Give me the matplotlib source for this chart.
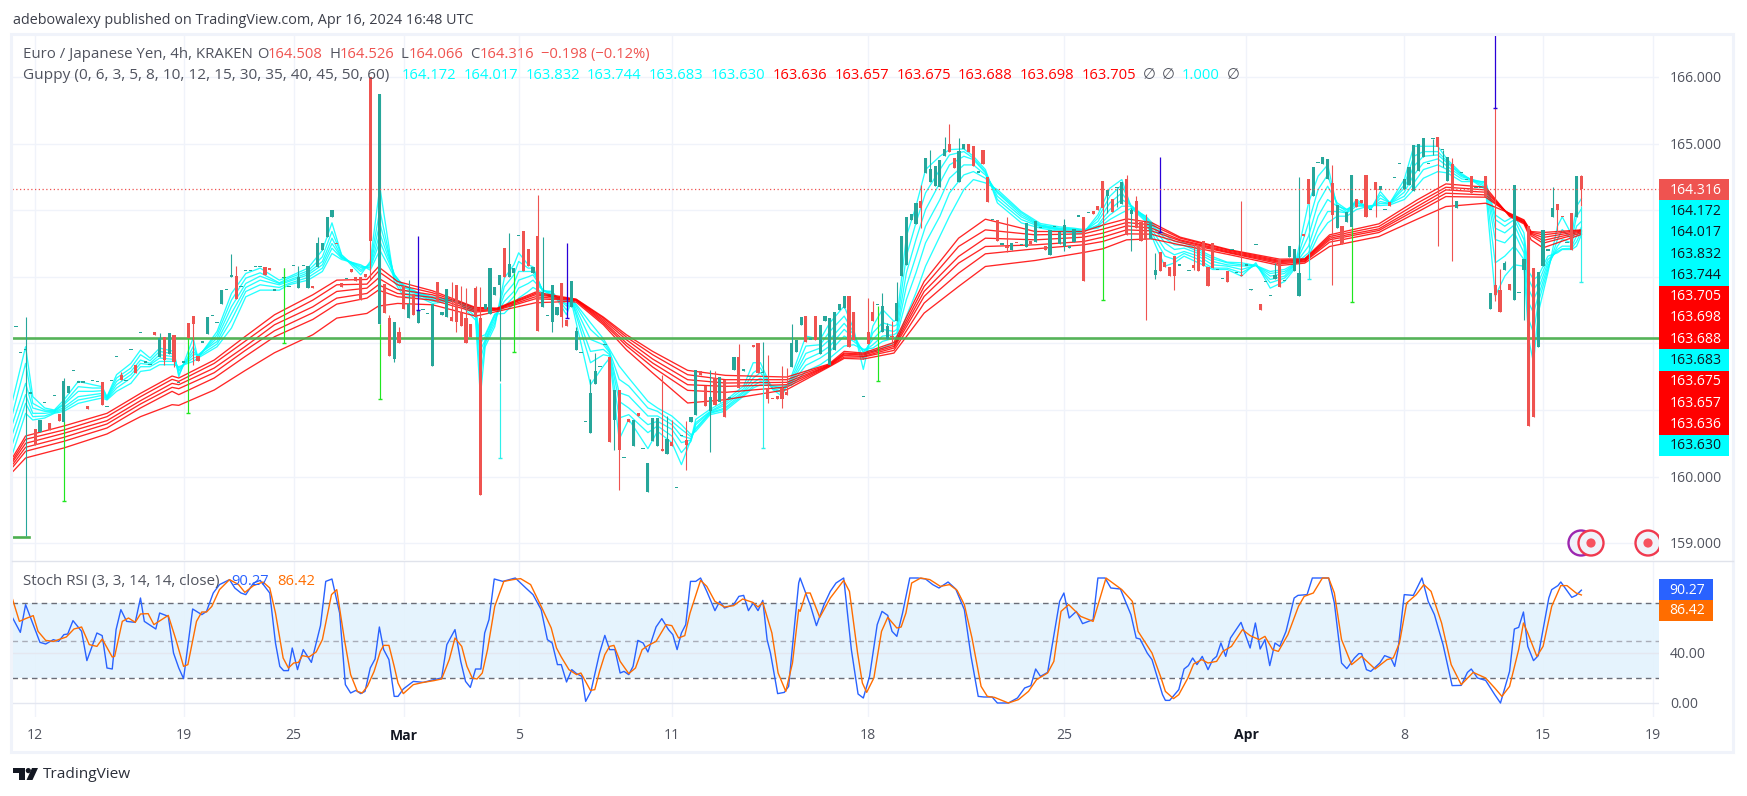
import numpy as np
import matplotlib
matplotlib.use("Agg")
import matplotlib.pyplot as plt
from matplotlib.patches import Rectangle, Circle, Polygon

nan = float("nan")
FONT = "Open Sans"
plt.rcParams["font.family"] = [FONT, "DejaVu Sans"]

# ------------------------- DATA -------------------------
first_bar = -2
bar_open = [
 162.243,161.853,161.90,161.243,160.718,160.663,161.103,160.803,161.208,160.943,  # -2..7
 160.813,161.253,161.583,161.408,161.408,161.063,161.428,161.418,161.418,161.043,  # 8..17
 161.428,161.793,161.528,161.428,161.898,161.673,162.153,161.713,161.678,162.168,  # 18..27
 161.803,162.093,161.843,162.123,161.403,161.713,162.303,162.408,161.813,162.013,  # 28..37
 162.143,162.408,162.303,162.593,162.803,163.003,163.013,162.843,163.083,163.083,  # 38..47
 163.143,163.143,163.143,163.128,162.793,nan,162.978,162.843,163.158,162.838,      # 48..57
 163.158,162.838,162.848,163.153,163.403,163.603,163.893,163.498,162.913,162.968,  # 58..67
 163.113,162.993,162.993,163.043,166.0,nan,162.293,162.888,162.378,161.763,        # 68..77
 162.173,162.863,162.388,162.738,162.313,162.503,162.438,161.668,162.918,162.433,  # 78..87
 162.393,162.403,162.878,162.463,162.378,162.293,162.828,162.378,162.513,162.438,  # 88..97
 162.728,162.878,163.428,163.003,163.053,163.613,163.683,163.413,163.053,163.613,  # 98..107
 162.553,162.413,162.328,162.433,162.913,162.353,162.54,161.895,161.855,160.82,    # 108..117
 160.655,161.395,161.645,161.97,161.795,160.845,161.305,160.28,160.865,160.455,    # 118..127
 160.955,160.415,159.765,160.53,160.455,160.415,160.335,160.52,159.83,160.605,     # 128..137
 160.545,160.815,160.92,161.58,161.365,160.98,161.485,161.115,161.445,161.17,      # 138..147
 161.605,161.8,161.58,161.495,161.98,162.005,161.555,161.33,161.17,161.215,        # 148..157
 161.33,161.265,161.64,161.87,162.28,162.405,162.055,162.415,161.845,162.33,       # 158..167
 161.68,161.905,162.495,162.53,162.715,162.47,nan,161.195,162.17,162.47,           # 168..177
 162.575,162.165,162.065,162.11,162.33,163.005,163.17,163.855,163.795,164.135,     # 178..187
 164.565,164.43,164.365,164.345,164.815,164.995,164.78,164.42,164.92,164.995,      # 188..197
 164.965,164.565,164.905,164.495,163.855,163.855,163.48,163.465,163.405,163.51,    # 198..207
 163.475,163.445,163.54,163.53,163.73,163.455,163.32,163.745,163.495,163.455,      # 208..217
 163.43,163.53,163.905,163.895,163.955,163.99,164.065,164.44,164.215,164.165,      # 218..227
 164.335,164.095,164.47,163.945,164.14,163.83,163.83,163.575,163.03,163.37,        # 228..237
 163.22,163.14,163.315,163.165,nan,163.085,163.17,163.455,163.54,163.145,          # 238..247
 163.505,163.1,162.965,163.09,163.395,163.055,163.03,163.165,162.795,163.475,      # 248..257
 162.59,162.92,162.71,162.97,163.265,162.935,163.295,163.08,162.705,163.63,        # 258..267
 164.47,164.215,164.705,164.695,164.47,164.405,163.74,163.765,163.83,163.745,      # 268..277
 164.17,164.155,164.53,164.005,164.42,164.305,164.0,164.12,164.48,164.69,          # 278..287
 164.315,164.38,164.295,164.595,164.805,164.69,165.065,165.095,164.9,164.445,      # 288..297
 164.695,164.03,164.555,164.455,164.515,164.33,164.33,164.515,162.52,162.88,       # 298..307
 162.805,163.095,162.895,162.645,162.755,163.095,163.765,163.13,161.94,163.155,    # 308..317
 163.39,163.905,164.095,163.9,163.505,163.955,163.905,164.508]                     # 318..325
bar_close = [
 162.243,161.853,161.90,161.243,160.478,160.853,161.103,160.703,161.208,160.838,
 161.433,161.363,161.583,161.408,161.408,161.018,161.428,161.418,161.068,161.043,
 161.428,161.793,161.453,161.428,161.898,161.553,162.153,161.713,161.678,162.128,
 162.088,161.753,162.163,161.728,161.403,161.713,162.078,162.293,161.743,162.013,
 162.393,162.408,162.303,162.803,162.803,163.003,162.668,162.843,163.083,163.083,
 163.143,163.143,163.028,163.108,162.793,nan,162.978,162.843,163.158,162.993,
 163.158,163.163,162.838,163.503,163.503,163.893,164.003,163.488,162.853,162.968,
 163.078,162.943,162.653,163.003,163.54,nan,165.74,162.463,161.818,162.318,
 162.013,162.523,162.593,162.433,162.493,162.503,162.438,162.588,162.618,162.468,
 162.813,162.343,162.318,162.268,162.013,162.103,162.403,159.728,162.593,163.128,
 162.843,163.023,162.993,163.193,163.128,163.613,163.093,163.168,163.153,162.193,
 162.778,162.413,162.878,162.553,162.393,162.268,162.935,162.19,161.855,160.82,
 161.255,161.58,161.645,161.97,160.515,161.305,160.395,160.28,160.825,160.845,
 160.905,160.415,160.205,160.88,160.88,160.39,160.565,160.455,159.83,160.605,
 160.48,160.895,161.595,161.53,161.065,161.19,161.08,161.495,160.895,161.17,
 161.8,161.33,161.615,161.495,161.94,161.555,161.555,161.165,161.16,161.165,
 161.165,161.225,162.01,162.055,162.395,162.015,162.055,162.055,162.28,162.405,
 162.38,162.47,162.59,162.715,161.94,162.045,nan,161.195,161.99,162.33,
 162.575,162.555,162.255,162.095,162.605,163.615,163.895,163.94,164.105,164.04,
 164.78,164.615,164.665,164.755,164.915,164.88,164.64,164.895,164.995,164.88,
 164.67,164.565,164.69,164.13,163.855,163.545,163.48,163.43,163.515,163.50,
 163.475,163.805,163.495,163.845,163.73,163.395,163.705,163.745,163.67,163.78,
 163.465,163.715,163.905,162.93,163.955,163.95,164.005,164.03,164.305,163.98,
 164.335,164.42,163.635,164.005,163.73,163.545,163.555,163.83,163.105,163.08,
 163.14,163.005,163.015,163.165,nan,163.085,163.13,163.08,163.155,162.855,
 163.13,163.1,162.965,162.915,163.395,163.055,163.005,163.165,162.815,163.475,
 162.505,162.92,162.71,163.03,162.84,162.935,163.465,163.415,163.055,163.62,
 164.095,164.645,164.705,164.795,164.765,163.93,164.075,163.49,163.975,164.53,
 164.045,164.115,163.905,164.005,164.305,164.36,164.0,164.07,164.48,164.69,
 164.465,164.645,164.98,164.995,165.09,164.69,165.065,164.955,164.9,164.795,
 164.305,164.145,164.555,164.455,164.265,164.33,164.33,164.205,162.755,162.72,
 162.465,163.205,162.795,164.38,162.755,163.27,160.755,160.89,163.07,163.7,
 163.39,164.04,164.005,163.895,163.505,163.405,164.515,164.316]

wick_high = {0:162.403,8:161.478,20:161.568,28:162.153,43:163.338,44:163.163,54:163.133,
 57:163.158,61:163.593,76:162.428,78:162.253,80:162.953,89:162.928,91:162.863,92:162.828,
 94:162.863,95:162.843,101:163.653,107:164.23,108:163.593,115:162.245,118:161.465,119:161.855,
 133:161.52,134:160.905,135:160.855,138:160.83,143:161.605,144:161.58,149:161.99,154:162.015,
 155:161.83,158:161.665,159:161.63,160:162.295,176:162.68,177:162.64,179:162.755,180:162.305,
 181:162.34,182:162.915,187:164.38,189:164.905,192:165.105,193:165.295,195:165.08,205:163.905,
 217:163.865,228:164.34,230:164.53,231:164.03,232:164.215,234:163.94,236:163.355,244:163.505,
 254:164.135,261:163.205,266:164.495,273:164.68,298:164.78,307:165.53,308:163.115,309:163.24,
 319:164.345,325:164.526}
wick_low = {0:159.103,8:160.803,29:161.678,31:161.653,35:161.678,72:162.953,77:161.728,90:162.178,
 99:161.428,110:162.168,112:162.243,123:160.405,124:159.795,138:160.095,143:160.37,155:161.105,
 158:161.03,181:161.955,187:163.73,205:163.365,217:163.38,225:163.795,226:163.965,228:164.045,
 231:163.39,234:162.345,236:162.97,240:162.805,244:163.105,273:162.87,282:163.905,294:164.83,
 295:163.465,296:164.655,298:163.23,307:162.63,313:162.355,320:163.68,325:164.066}

green_wick_bar = [8,34,54,74,102,178,225,277]
green_wick_top = [160.813,162.078,163.133,162.293,163.053,162.565,163.775,163.745]
green_wick_bottom = [159.628,160.953,162.003,161.163,161.868,161.43,162.655,162.62]
blue_wick_bar = [82,113,237,307]
blue_wick_top = [163.613,163.503,164.795,166.65]
blue_wick_bottom = [162.503,162.378,163.68,165.53]
cyan_wick_bar = [99,154,268,325]
cyan_wick_top = [161.403,161.555,164.095,164.066]
cyan_wick_bottom = [160.278,160.43,162.965,162.92]

red_knots = [-2.6,0,8,17,24,30.6,32,39.4,45.8,52,60,65,71.3,73.7,77.7,85,94,98.5,106.5,113.7,
 115,120.7,125.5,131,138.3,146.2,159,167.8,171,175,181.4,187.7,194.9,200.5,210.9,221,
 225,230,235.2,241.2,251.6,262,267.2,272.4,282.7,290.7,296.7,305,310,313,314.5,317,325]
# one row per knot: EMA 30, 35, 40, 45, 50, 60
red_emas = [
 [160.30,160.26,160.23,160.19,160.15,160.08],[160.61,160.56,160.50,160.44,160.38,160.28],
 [160.76,160.70,160.65,160.59,160.53,160.43],[160.95,160.90,160.84,160.79,160.73,160.64],
 [161.25,161.20,161.14,161.09,161.03,160.90],[161.51,161.46,161.40,161.34,161.28,161.08],
 [161.48,161.43,161.38,161.32,161.23,161.07],[161.75,161.70,161.63,161.56,161.48,161.30],
 [162.10,162.03,161.95,161.89,161.80,161.59],[162.43,162.35,162.28,162.19,162.10,161.86],
 [162.73,162.65,162.55,162.46,162.36,162.13],[162.95,162.88,162.78,162.68,162.59,162.38],
 [162.96,162.89,162.83,162.75,162.68,162.45],[163.15,163.08,162.98,162.88,162.80,162.56],
 [162.93,162.88,162.81,162.75,162.70,162.60],[162.79,162.76,162.73,162.69,162.65,162.58],
 [162.54,162.53,162.51,162.49,162.47,162.41],[162.53,162.52,162.52,162.51,162.50,162.48],
 [162.77,162.75,162.73,162.70,162.67,162.61],[162.68,162.67,162.67,162.66,162.65,162.63],
 [162.665,162.66,162.655,162.65,162.64,162.62],[162.395,162.38,162.355,162.33,162.305,162.28],
 [162.13,162.095,162.055,162.005,161.965,161.905],[161.88,161.83,161.765,161.705,161.645,161.555],
 [161.595,161.53,161.455,161.38,161.295,161.105],[161.52,161.455,161.405,161.355,161.265,161.155],
 [161.495,161.455,161.415,161.38,161.345,161.305],[161.69,161.68,161.67,161.665,161.655,161.645],
 [161.88,161.855,161.84,161.82,161.795,161.775],[161.855,161.84,161.825,161.805,161.795,161.765],
 [162.015,161.98,161.955,161.93,161.895,161.855],[162.93,162.855,162.78,162.705,162.605,162.455],
 [163.58,163.455,163.305,163.205,163.055,162.855],[163.865,163.705,163.58,163.455,163.345,163.155],
 [163.68,163.63,163.555,163.48,163.42,163.245],[163.68,163.645,163.595,163.53,163.48,163.365],
 [163.775,163.715,163.655,163.595,163.53,163.42],[163.87,163.815,163.765,163.705,163.645,163.555],
 [163.815,163.78,163.73,163.69,163.64,163.57],[163.595,163.58,163.555,163.54,163.515,163.48],
 [163.405,163.395,163.38,163.365,163.355,163.33],[163.265,163.245,163.23,163.215,163.195,163.17],
 [163.27,163.26,163.25,163.235,163.225,163.205],[163.63,163.605,163.58,163.555,163.52,163.455],
 [163.795,163.755,163.72,163.695,163.665,163.605],[164.155,164.105,164.055,164.015,163.97,163.865],
 [164.395,164.345,164.305,164.255,164.205,164.055],[164.345,164.305,164.27,164.23,164.195,164.105],
 [163.905,163.92,163.93,163.935,163.945,163.955],[163.795,163.81,163.82,163.83,163.845,163.855],
 [163.555,163.615,163.64,163.655,163.67,163.68],[163.435,163.505,163.545,163.59,163.63,163.665],
 [163.636,163.657,163.675,163.688,163.698,163.705]]

cyan_knots = [-2.7,0,1.5,4,6,8,11,14,16,17,19,22,24,26,28,31,32,35,36,40,43,46,49,53,55,59,62,64,66,70,72,
 74,77,79,82,85,90,92,94,95,96,98,100,102,103,105,106,108,110,113,
 114,118,120.7,122,124,126,130,132,135,137,139,140,143,146,150,152,153.5,156,158,160,163,166,168,171,173,
 175,177,179,181.4,182,184,186,188,191,193,196,198,200.5,203,208,212,216,219,221,
 224,226.5,229,231,234,236,238,240,242,245,248,251,254,257,260,263,265,268,270,272,274,276,278,281,283,285,
 288,290,292,295,297,300,305,307,309,311,313,314,315,316,318,320,321,323,324,325]
# one row per knot: EMA 3, 5, 8, 10, 12, 15
cyan_emas = [
 [161.15,160.95,160.80,160.65,160.50,160.35],[161.95,161.70,161.40,161.23,161.10,160.95],
 [161.20,161.10,161.03,160.95,160.90,160.85],[161.03,161.00,160.98,160.95,160.91,160.88],
 [161.00,160.99,160.98,160.97,160.96,160.95],[161.15,161.10,161.08,161.04,161.01,160.98],
 [161.43,161.35,161.28,161.20,161.15,161.10],[161.38,161.33,161.28,161.23,161.19,161.15],
 [161.35,161.33,161.29,161.25,161.22,161.18],[161.20,161.19,161.18,161.17,161.16,161.15],
 [161.53,161.48,161.43,161.38,161.33,161.28],[161.70,161.63,161.58,161.53,161.48,161.40],
 [161.90,161.83,161.75,161.70,161.65,161.58],[161.78,161.74,161.70,161.68,161.65,161.60],
 [161.93,161.88,161.83,161.78,161.73,161.68],[161.88,161.84,161.80,161.76,161.73,161.68],
 [161.50,161.53,161.58,161.60,161.63,161.65],[162.08,161.95,161.88,161.83,161.78,161.73],
 [161.78,161.80,161.81,161.83,161.80,161.78],[162.18,162.13,162.08,162.03,161.99,161.95],
 [162.75,162.65,162.55,162.45,162.35,162.23],[163.05,162.98,162.90,162.84,162.78,162.70],
 [163.13,163.06,163.01,162.95,162.88,162.80],[162.95,162.91,162.90,162.88,162.84,162.80],
 [163.00,162.98,162.95,162.93,162.90,162.88],[163.13,163.09,163.06,163.03,162.99,162.95],
 [163.40,163.30,163.23,163.18,163.13,163.08],[163.81,163.68,163.58,163.50,163.43,163.35],
 [163.33,163.33,163.30,163.29,163.28,163.26],[163.03,163.08,163.11,163.14,163.16,163.18],
 [163.23,163.20,163.18,163.15,163.13,163.10],[164.35,164.00,163.80,163.65,163.53,163.40],
 [162.93,162.98,163.03,163.04,163.03,163.00],[162.70,162.75,162.80,162.84,162.86,162.88],
 [162.70,162.73,162.74,162.75,162.76,162.76],[162.60,162.63,162.65,162.67,162.69,162.70],
 [162.65,162.65,162.64,162.64,162.63,162.63],[162.50,162.53,162.55,162.56,162.58,162.59],
 [162.35,162.40,162.45,162.48,162.50,162.51],[161.20,161.50,161.75,161.90,162.00,162.10],
 [161.95,162.00,162.03,162.05,162.10,162.13],[162.25,162.30,162.35,162.40,162.43,162.44],
 [162.98,162.85,162.73,162.63,162.55,162.45],[163.18,163.03,162.90,162.78,162.70,162.60],
 [163.36,163.23,163.08,162.95,162.83,162.68],[163.18,163.13,163.08,163.00,162.90,162.78],
 [163.15,163.13,163.08,163.03,162.95,162.84],[162.78,162.79,162.80,162.81,162.80,162.76],
 [162.78,162.78,162.75,162.73,162.71,162.69],[162.43,162.50,162.56,162.59,162.63,162.65],
 [162.63,162.66,162.665,162.675,162.68,162.68],[161.38,161.71,161.88,162.06,162.21,162.31],
 [161.66,161.83,161.91,161.98,162.03,162.07],[161.78,161.81,161.83,161.86,161.88,161.91],
 [160.56,160.88,161.13,161.26,161.46,161.66],[160.86,160.93,161.03,161.21,161.36,161.48],
 [160.42,160.66,160.78,160.91,161.03,161.13],[160.68,160.76,160.83,160.91,160.98,161.03],
 [160.51,160.61,160.71,160.78,160.83,160.91],[160.18,160.36,160.51,160.61,160.71,160.78],
 [160.56,160.53,160.55,160.57,160.60,160.63],[160.86,160.81,160.78,160.73,160.71,160.68],
 [161.01,160.98,160.97,160.96,160.95,160.93],[161.13,161.10,161.07,161.03,161.01,160.98],
 [161.36,161.32,161.28,161.26,161.23,161.21],[161.71,161.56,161.48,161.41,161.36,161.33],
 [161.71,161.63,161.56,161.48,161.43,161.38],[161.31,161.32,161.33,161.36,161.36,161.36],
 [161.21,161.26,161.28,161.31,161.33,161.36],[161.51,161.47,161.44,161.42,161.40,161.37],
 [162.11,161.96,161.85,161.76,161.67,161.58],[162.06,161.98,161.93,161.86,161.78,161.68],
 [162.31,162.18,162.06,161.96,161.88,161.78],[162.56,162.41,162.30,162.21,162.11,161.96],
 [162.21,162.16,162.13,162.08,162.03,161.98],[161.61,161.76,161.86,161.88,161.91,161.91],
 [162.26,162.16,162.06,161.98,161.93,161.88],[162.51,162.31,162.21,162.11,162.03,161.93],
 [162.33,162.26,162.18,162.13,162.08,162.01],[162.36,162.28,162.21,162.16,162.11,162.03],
 [163.61,163.31,163.06,162.86,162.66,162.41],[164.06,163.81,163.56,163.31,163.06,162.76],
 [164.61,164.26,164.01,163.76,163.51,163.16],[164.81,164.61,164.41,164.16,163.91,163.61],
 [164.91,164.83,164.68,164.48,164.26,163.91],[164.92,164.88,164.81,164.68,164.53,164.31],
 [164.81,164.78,164.76,164.68,164.58,164.46],[164.61,164.58,164.56,164.53,164.48,164.41],
 [164.11,164.16,164.21,164.26,164.28,164.31],[163.81,163.86,163.90,163.93,163.96,163.98],
 [163.73,163.75,163.76,163.77,163.78,163.80],[163.68,163.70,163.71,163.72,163.73,163.75],
 [163.66,163.68,163.70,163.71,163.72,163.73],[163.66,163.67,163.68,163.68,163.70,163.71],
 [163.93,163.88,163.83,163.78,163.76,163.73],[164.33,164.21,164.11,164.01,163.93,163.86],
 [164.46,164.38,164.26,164.16,164.06,163.96],[164.03,164.05,164.06,164.07,164.06,164.03],
 [163.83,163.85,163.87,163.88,163.90,163.91],[163.48,163.56,163.63,163.70,163.73,163.76],
 [163.16,163.31,163.41,163.51,163.58,163.63],[163.21,163.26,163.33,163.41,163.48,163.53],
 [163.31,163.35,163.38,163.43,163.47,163.51],[163.21,163.26,163.31,163.35,163.38,163.41],
 [163.11,163.13,163.18,163.23,163.27,163.30],[163.11,163.13,163.16,163.18,163.21,163.22],
 [163.01,163.06,163.11,163.16,163.18,163.21],[163.21,163.18,163.17,163.17,163.17,163.17],
 [162.83,162.91,162.96,163.01,163.05,163.08],[162.93,162.98,163.01,163.05,163.08,163.11],
 [163.11,163.13,163.16,163.17,163.18,163.19],[164.11,163.81,163.61,163.46,163.36,163.31],
 [164.51,164.31,164.11,163.91,163.73,163.61],[164.68,164.53,164.36,164.16,163.98,163.81],
 [164.03,164.08,164.11,164.06,163.98,163.91],[163.96,163.98,164.01,164.01,163.96,163.91],
 [164.16,164.13,164.11,164.08,164.06,164.01],[164.01,164.02,164.03,164.05,164.06,164.07],
 [164.28,164.23,164.18,164.13,164.10,164.07],[164.11,164.11,164.11,164.10,164.10,164.08],
 [164.46,164.38,164.33,164.27,164.21,164.16],[164.96,164.81,164.66,164.53,164.41,164.31],
 [164.96,164.88,164.81,164.71,164.61,164.48],[164.96,164.88,164.83,164.77,164.68,164.58],
 [164.76,164.73,164.71,164.66,164.61,164.56],[164.55,164.53,164.52,164.50,164.47,164.43],
 [164.31,164.35,164.38,164.41,164.42,164.43],[162.71,163.21,163.56,163.73,163.86,163.93],
 [163.01,163.31,163.51,163.66,163.76,163.83],[163.18,163.46,163.66,163.78,163.86,163.91],
 [163.16,163.26,163.36,163.46,163.56,163.66],[162.06,162.36,162.61,162.81,162.96,163.08],
 [161.71,162.16,162.46,162.66,162.81,162.96],[162.46,162.61,162.71,162.81,162.91,163.01],
 [163.06,163.11,163.16,163.21,163.26,163.31],[163.76,163.56,163.46,163.41,163.38,163.36],
 [163.90,163.71,163.56,163.46,163.42,163.41],[163.63,163.56,163.51,163.46,163.43,163.41],
 [164.06,163.91,163.76,163.61,163.53,163.46],[164.172,164.017,163.832,163.744,163.683,163.630]]

support_price = 162.08
last_price = 164.316

k_bar = [-2.7,-1.1,0,1.6,3,4.2,5.8,6.9,8,8.8,9.9,11.7,12.8,14.9,16,17,18.1,18.9,19.9,21.1,22.9,24,24.8,27.2,28,29.8,30.9,32,33,34.9,36.8,37.8,39.2,40.5,42.6,43.7,45,46,47.6,49,51,52.2,53.1,53.9,54.9,55.7,56.8,58,59.7,61.6,62.7,64,65.6,66.8,67.9,69,70,70.9,72,73,73.9,74.8,75.9,77,77.8,78.9,81,83.1,85.3,86.9,88,89.7,90.9,91.9,92.9,94,95.1,95.9,96.8,97.9,99.7,102.3,104.5,106,107.7,109,110,111.1,111.9,113,114.1,115.1,116.2,117,118.1,119.9,121,122,123.1,124.2,125,126,126.9,127.9,129,130,131.7,132.9,134.3,135.2,136.1,137,137.9,138.9,140,141,142.3,144,145,146,147.9,149,150,151,152,153,154,154.9,155.6,157.1,158.5,159.4,160.4,161.5,
 161.8,164,165.2,166.8,168.1,169.3,170.9,172.5,173.9,175,176.3,177.9,178.9,180.1,181,182,183.2,184.7,186.4,188,189.5,190.8,192.7,194.3,196.1,197.5,199,200.2,201.9,203,205.3,207.2,208.7,210,211,212,213.5,216,216.9,218,219.5,220.8,223,224,225.5,226.7,228.7,230.9,232,232.8,234.3,235.3,237.5,238.1,239,240.9,242,242.9,243.8,244.7,245.8,247,248,248.8,249.7,250.7,251.7,253.9,255.8,256.9,257.9,258.9,259.9,261,262,263.3,265,265.8,267.7,268.8,270.9,272.2,273.4,274.9,276,277.6,278.5,279.1,280.1,281,282.9,283.9,285.2,286,286.7,288,289.9,291.7,293,294.3,296.1,298,299.9,301.2,302,303.3,305,306.9,308.1,310,311,311.9,312.9,313.8,315,316,318.2,318.8,320.1,320.7,323,323.9,325]
k_value = [68,56.5,78.7,62.7,48.5,47.2,50.7,49.3,54.7,55.2,65.9,57.3,33.9,56,53.9,28,27.2,58.7,74.7,65.3,64.5,84,65.3,59.2,72,69.3,40,28,19.5,75.2,70.7,73.3,88,94.7,98.7,92,88,86.7,96,98.1,88,48,29.3,25.9,25.9,44,26.7,42.7,32.5,61.9,97.3,99.2,72,14.7,8,10.1,7.5,9.3,28,35.2,60.8,42.7,34.7,5.3,5.3,11.2,17.3,16.5,18.7,20,46.7,58.7,33.3,17.3,12.5,27.2,27.2,56,66.7,99.2,97.3,100,92,86.7,74.7,50.7,48,30.7,30.7,16.8,26.7,23.5,21.3,1.3,9.3,40,54.1,42.7,42.7,24,25.3,22.7,29.3,50.1,48,40.8,60.8,67.5,58.7,54.7,42.7,56,62.7,97.3,97.3,100,89.3,73.9,81.3,76,78.7,85.3,86.1,73.9,80,73.9,82.1,50.7,40,7.5,8.5,13.3,53.3,96,
 100,77.3,61.9,78.7,89.3,96,100,42.7,7.2,4,21.3,62.7,73.3,70.1,57.3,53.3,72,100,100,99.2,94.7,92,96.8,91.2,74.7,37.3,5.3,4.8,4.8,0,0,4,12,13.9,27.2,21.3,24.5,81.3,88,68,73.3,63.5,66.7,100,100,92,91.2,70.7,52,51.2,40,34.7,6.7,2.1,2.1,10.7,27.2,29.9,36,30.7,37.3,26.7,34.7,37.3,48,37.3,52,64.5,44,64,43.2,50.7,29.9,48,45.3,57.3,84,86.1,86.7,100,100,100,80,32,27.5,36,39.5,39.5,26.7,25.3,32,37.9,36,29.3,42.7,86.7,86.1,100,81.3,70.7,46.7,13.9,14.1,24.5,27.2,20,18.1,6.7,0,25.3,59.2,60.5,72.8,45.3,33.9,37.9,84,90.7,93.9,96.8,84.5,86.1,90.27]
d_bar = [-2.7,-1.3,0,1.6,2.6,4.2,5.8,8.5,10.1,11.7,13.3,14.9,16,18.1,18.6,20.2,21.5,22.9,24,25.6,26.8,29.8,31.4,33,33.9,35.7,36.8,37.8,38.9,40.5,42.6,44.5,45.8,47.6,49.6,51,52.2,53.8,54.9,56,57,57.8,59.2,60.7,62,63.9,65,66.6,67.9,69.3,70.3,71.4,72.8,74.1,74.8,75.9,77,77.8,78.9,81,83.1,85.3,86.9,88.5,89.7,91.1,92.2,93.3,94.3,95.4,96.5,98,99.9,101.8,103.4,105.5,107.7,109.8,110.9,111.9,113.5,115.1,116,118,118.9,119.9,121,122,122.9,124.2,126,127.4,128.8,130,131.7,133.8,135,136.4,137.7,138.8,141,142.3,144,146,147.9,149.8,151.9,153,154,155.9,157.2,158.8,160.2,161.5,
 161.8,163,163.9,165.9,168.1,170.9,172.1,173.8,174.8,175.7,177.2,178.8,180.1,182,182.9,183.9,185.1,187,188.9,191.1,193,194.6,196.1,197.7,199.6,200.9,202.4,205.3,207.4,209.5,211.2,213.5,214.8,216.3,217.9,220.4,223,225.7,229,231.2,232.4,235.3,237.2,238.1,239.8,240.9,242.8,244,245.7,247,248.8,250.1,251.9,254.2,255.8,257.7,258.9,260.5,261.7,263.7,265.9,267.1,269,270.9,272.2,273.4,274.9,277,279.1,281.9,284.4,285.7,287,288.5,290.5,292.1,293.6,295.8,297.8,299.9,302.4,305,306.9,308.4,310,311.9,312.9,313.8,315.7,317,318.8,320.7,322,323.9,325]
d_value = [82.7,65.3,67.5,69.9,57.3,50.1,49.3,52.8,59.2,60.8,46.7,45.3,51.2,36.8,37.3,65.3,68,64.5,71.2,71.5,62.7,70.1,50.7,29.3,30.7,65.3,72.8,72.8,77.3,90.7,98.7,94.7,88.5,93.9,96.8,92,72,36,28,32,32.5,37.9,36.8,40.8,50.7,86.7,90.7,50.7,22.7,9.3,8,13.3,25.3,41.3,46.1,46.1,29.3,16,7.5,14.7,16.5,17.9,19.2,34.7,52,45.3,29.3,20,19.2,24,42.7,77.3,97.3,98.7,99.5,94.7,77.3,60,44,36.8,26.7,22.7,24,10.1,10.7,25.3,38.7,45.3,46.1,33.3,23.5,28,42.7,45.9,49.3,62.7,61.9,52,53.9,72,98.1,93.3,81.3,76.8,77.9,83.2,80.5,76.8,80.5,56,24,9.3,32,74.7,
 73.3,88,88,68.5,84,98.1,89.3,40,16,8.5,20,57.3,68.5,60,60.8,72,96,100,98.7,93.3,94.7,90.1,78.7,52,13.3,5.3,4.5,0,2.7,9.3,18.7,24,33.3,73.3,78.7,69.3,65.3,100,90.7,81.3,57.3,40,20,9.3,3.5,6.7,20,31.2,34.7,32,33.3,41.3,45.3,58.7,53.9,50.7,53.3,42.7,41.3,54.7,77.3,85.3,88,100,100,88,50.7,30.7,37.3,27.2,34.7,36,48,80,86.7,94.7,89.3,64,30.7,14.7,24.5,20,12,5.3,13.3,42.7,64,56,37.3,45.3,77.3,93.9,93.9,88,86.42]

date_tick_bar = [2,33,56,79,103,135,176,217,255,288,317,340]
date_tick_label = ["12","19","25","Mar","5","11","18","25","Apr","8","15","19"]
price_gridlines = [159,160,161,162,163,164,165,166]
price_tick_label = [159,160,165,166]
stoch_gridlines = [0,40]

tag_text = ["164.316","164.172","164.017","163.832","163.744","163.705","163.698","163.688",
            "163.683","163.675","163.657","163.636","163.630"]
tag_kind = ["last","c","c","c","c","r","r","r","c","r","r","r","c"]

# ------------------------- LAYOUT -------------------------
W, H = 1747, 796
fig = plt.figure(figsize=(W/100, H/100), dpi=100, facecolor="white")
L, R = 12.5, 1659
def rect(top, bottom):
    return [L/W, 1-bottom/H, (R-L)/W, (bottom-top)/H]
BAR_X0, BAR_DX = 25.6, 4.787
xlim = ((L-BAR_X0)/BAR_DX, (R-BAR_X0)/BAR_DX)

ax = fig.add_axes(rect(35, 560))
ax.set_xlim(xlim)
ax.set_ylim(166-(560-77)/66.6, 166-(35-77)/66.6)
ax.axis("off")
ax2 = fig.add_axes(rect(561, 716.5))
ax2.set_xlim(xlim)
ax2.set_ylim((703-716.5)/1.25, (703-561)/1.25)
ax2.axis("off")

GRID = "#f0f3fa"
TEAL, RED = "#26a69a", "#ef5350"
for a in (ax, ax2):
    a.vlines(date_tick_bar, *a.get_ylim(), color=GRID, lw=1.0, zorder=0)
ax.hlines(price_gridlines, *xlim, color=GRID, lw=1.0, zorder=0)
ax2.hlines(stoch_gridlines, *xlim, color="#e4e7f0", lw=1.0, zorder=2)

# main pane
bars = np.arange(first_bar, first_bar+len(bar_open))
o = np.array(bar_open); c = np.array(bar_close)
assert len(o) == len(c) == 328, (len(o), len(c))
up = c >= o
top = np.maximum(o, c); bot = np.minimum(o, c)
hi = np.array([wick_high.get(int(b), t) for b, t in zip(bars, top)])
lo = np.array([wick_low.get(int(b), t) for b, t in zip(bars, bot)])

red_arr = np.array(red_emas); cyan_arr = np.array(cyan_emas)
assert len(red_arr) == len(red_knots), (len(red_arr), len(red_knots))
assert len(cyan_arr) == len(cyan_knots), (len(cyan_arr), len(cyan_knots))
for j in range(6):
    ax.plot(cyan_knots, cyan_arr[:, j], color="#00ffff", lw=0.95, alpha=0.85, zorder=3)
for j in range(6):
    ax.plot(red_knots, red_arr[:, j], color="#ff0000", lw=0.95, alpha=0.85, zorder=4)

colors = np.where(up, TEAL, RED)
ax.vlines(bars, lo, hi, colors=colors, lw=0.8, zorder=5)
body_h = np.maximum(top-bot, 0.02)
dash = (top-bot) < 0.012
ax.bar(bars, body_h, bottom=bot, width=np.where(dash, 0.7, 0.66), color=colors, linewidth=0, zorder=6)

ax.vlines(green_wick_bar, green_wick_bottom, green_wick_top, colors="#1fe61f", lw=0.85, zorder=7)
ax.vlines(blue_wick_bar, blue_wick_bottom, blue_wick_top, colors="#2a00d8", lw=0.9, zorder=7)
ax.vlines(cyan_wick_bar, cyan_wick_bottom, cyan_wick_top, colors="#2ff0ea", lw=0.85, zorder=7)
for bs, bt, col in ((green_wick_bar, green_wick_bottom, "#1fe61f"), (blue_wick_bar, blue_wick_bottom, "#2a00d8"),
                    (cyan_wick_bar, cyan_wick_bottom, "#2ff0ea")):
    ax.plot(bs, bt, ls="none", marker="_", ms=3, mew=1, color=col, zorder=7)

ax.hlines(support_price, *xlim, color="#4caf50", lw=1.9, alpha=0.95, zorder=4)
ax.plot([xlim[0], 0.8], [159.10, 159.10], color="#4caf50", lw=1.9, zorder=4)
ax.hlines(last_price, *xlim, color=RED, lw=0.9, linestyles=(0, (1, 2)), zorder=8)

# stochastic pane
ax2.axhspan(20, 80, color="#e3f2fd", alpha=0.9, lw=0, zorder=1)
ax2.hlines([80, 20], *xlim, color="#6a6d78", lw=1.0, linestyles=(0, (4, 3)), zorder=3)
ax2.hlines([50], *xlim, color="#a9adb8", lw=1.0, linestyles=(0, (4, 3)), zorder=3)
assert len(k_bar) == len(k_value), (len(k_bar), len(k_value))
assert len(d_bar) == len(d_value), (len(d_bar), len(d_value))
ax2.plot(k_bar, k_value, color="#2962ff", lw=1.0, zorder=4)
ax2.plot(d_bar, d_value, color="#ff6d00", lw=1.0, zorder=5)

# overlay in image pixels
ov = fig.add_axes([0, 0, 1, 1], facecolor="none", zorder=20)
ov.set_xlim(0, W); ov.set_ylim(H, 0); ov.axis("off")
def T(x, y, s, color="#50535e", size=10, ha="left", **kw):
    return ov.text(x, y+1.5, s, color=color, fontsize=size, ha=ha, va="center", family=[FONT, "DejaVu Sans"], **kw)

ov.add_patch(Rectangle((11.3, 34), 1722.2, 717.5, fc="none", ec="#f0f3fa", lw=2.2))
ov.plot([12, 1733], [560.5, 560.5], color="#e0e3eb", lw=1.0)

T(13, 19, "adebowalexy published on TradingView.com, Apr 16, 2024 16:48 UTC", color="#3c3f4a", size=10.4)
DARK = "#50535e"
T(23, 53, "Euro / Japanese Yen, 4h, KRAKEN", color=DARK, size=10.85)
for x, s in ((257.6, "O"), (329.5, "H"), (401, "L"), (470, "C")):
    T(x, 53, s, color=DARK, size=10.6)
for x, s in ((268, "164.508"), (340, "164.526"), (408.5, "164.066"), (480, "164.316"), (541.5, "\u22120.198 (\u22120.12%)")):
    T(x, 53, s, color=RED, size=10.6)
T(23, 74, "Guppy (0, 6, 3, 5, 8, 10, 12, 15, 30, 35, 40, 45, 50, 60)", color=DARK, size=11.1)
for x, s in zip((402, 463.6, 525.2, 587, 648.7, 710.7),
                ("164.172", "164.017", "163.832", "163.744", "163.683", "163.630")):
    T(x, 74, s, color="#00ffff", size=10.6)
for x, s in zip((772.7, 834.7, 896.3, 958, 1020, 1081.5),
                ("163.636", "163.657", "163.675", "163.688", "163.698", "163.705")):
    T(x, 74, s, color="#ff0000", size=10.6)
T(1142.8, 74, "\u2205", color=DARK, size=10.6)
T(1161.5, 74, "\u2205", color=DARK, size=10.6)
T(1181.4, 74, "1.000", color="#00ffff", size=10.6)
T(1227, 74, "\u2205", color=DARK, size=10.6)

T(23, 580, "Stoch RSI (3, 3, 14, 14, close)", color=DARK, size=10.9)
T(231, 580, "90.27", color="#2962ff", size=10.6)
T(277, 580, "86.42", color="#ff6d00", size=10.6)

# right scale
for p in price_tick_label:
    T(1670, 77+(166-p)*66.6, f"{p:.3f}", color="#50535e", size=10.1)
for v in (40, 0):
    T(1670, 703-v*1.25, f"{v:.2f}", color="#50535e", size=10.1)
for i, (s, k) in enumerate(zip(tag_text, tag_kind)):
    y = 179+i*21.3
    fc = {"last": RED, "c": "#00ffff", "r": "#ff0000"}[k]
    ov.add_patch(Rectangle((1659, y), 70, 21.3, fc=fc, ec="none", zorder=5))
    T(1670, y+9.6, s, color="#131722" if k == "c" else "white", size=10.1, zorder=6)
ov.add_patch(Rectangle((1659, 579), 54, 21, fc="#2962ff", ec="none"))
T(1669, 588.5, "90.27", color="white", size=10.1)
ov.add_patch(Rectangle((1659, 600), 54, 21, fc="#ff6d00", ec="none"))
T(1669, 609.5, "86.42", color="white", size=10.1)

# date axis
for b, s in zip(date_tick_bar, date_tick_label):
    month = s in ("Mar", "Apr")
    T(BAR_X0+b*BAR_DX, 734, s, color="#131722" if month else DARK, size=10.1, ha="center",
      fontweight="bold" if month else "normal")

# event markers on the time axis edge
for x, ec, dot in ((1581, "#9c27b0", False), (1591, "#f0394f", True), (1648, "#f0394f", True)):
    ov.add_patch(Circle((x, 543), 12.5, fc="#f0f3fa", ec=ec, lw=1.7, zorder=3))
    if dot:
        ov.add_patch(Circle((x, 543), 4.6, fc="#f7525f", ec="none", zorder=4))
ov.add_patch(Rectangle((1659, 528), 8, 30, fc="white", ec="none", zorder=3.5))

# footer logo and name
INK = "#131722"
ov.add_patch(Polygon([(13, 768), (25, 768), (25, 780), (19.5, 780), (19.5, 773), (13, 773)], fc=INK, ec="none"))
ov.add_patch(Circle((28.3, 770.6), 2.6, fc=INK, ec="none"))
ov.add_patch(Polygon([(32, 768), (38, 768), (32.5, 780), (26.5, 780)], fc=INK, ec="none"))
T(43, 773.5, "TradingView", color="#2a2e39", size=11.1)

fig.savefig("out.png", dpi=100, facecolor="white")
